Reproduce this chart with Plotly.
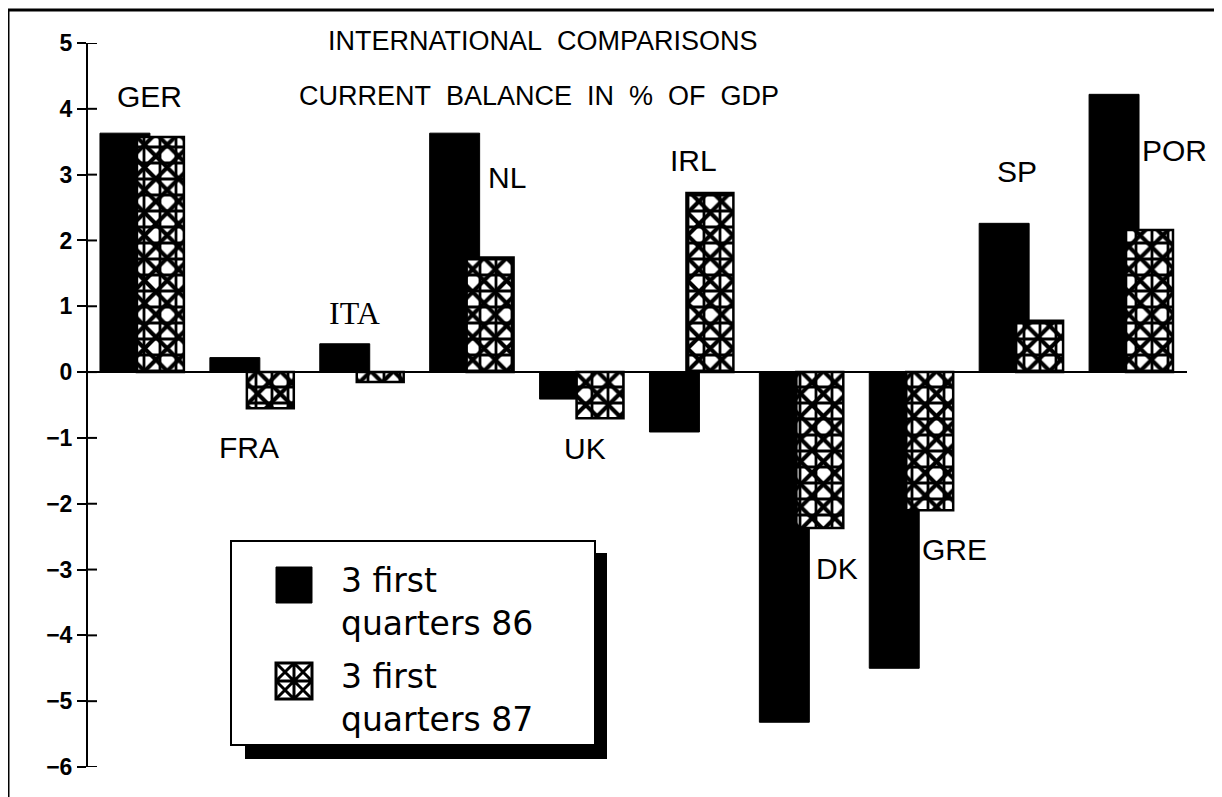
import plotly.graph_objects as go

# ---- data ----
countries = ["GER", "FRA", "ITA", "NL", "UK", "IRL", "DK", "GRE", "SP", "POR"]
q86 = [3.63, 0.22, 0.43, 3.63, -0.41, -0.91, -5.32, -4.50, 2.26, 4.22]
q87 = [3.57, -0.55, -0.15, 1.74, -0.70, 2.72, -2.37, -2.10, 0.78, 2.16]
series_names = ["3 first<br>quarters 86", "3 first<br>quarters 87"]
title_lines = ["INTERNATIONAL\u00a0\u00a0COMPARISONS",
               "CURRENT\u00a0\u00a0BALANCE\u00a0\u00a0IN\u00a0\u00a0%\u00a0\u00a0OF\u00a0\u00a0GDP"]
y_ticks = list(range(-6, 6))

# ---- label placement (layout only) ----
label_xshift = {"GER": 7, "FRA": -4, "ITA": -8, "NL": 34, "UK": 2,
                "IRL": 1, "DK": 35, "GRE": 42, "SP": -5, "POR": 42}
label_y = {"GER": 4.18, "FRA": -1.14, "ITA": 0.90, "NL": 2.96, "UK": -1.155,
           "IRL": 3.21, "DK": -2.98, "GRE": -2.70, "SP": 3.05, "POR": 3.36}

OFF = 8                      # page body margin
W, H = 1222 - OFF, 797 - OFF
ML, MR, MT, MB = 88 - OFF, 35, 43 - OFF, 30
PW, PH = W - ML - MR, H - MT - MB


def px_x(px):
    return (px - OFF - ML) / PW


def px_y(py):
    return (H - MB - (py - OFF)) / PH


fig = go.Figure()

fig.add_trace(go.Bar(
    x=countries, y=q86, name=series_names[0].replace("<br>", " "), showlegend=False,
    offset=-0.391, width=0.4545,
    marker=dict(color="black", line=dict(color="black", width=1)),
    hoverinfo="skip",
))
fig.add_trace(go.Bar(
    x=countries, y=q87, name=series_names[1].replace("<br>", " "), showlegend=False,
    offset=-0.0545, width=0.427,
    marker=dict(color="white", line=dict(color="black", width=0),
                pattern=dict(shape="+", fgcolor="black", bgcolor="white",
                             fillmode="replace", size=16, solidity=0.32)),
    hoverinfo="skip",
))
fig.add_trace(go.Bar(
    x=countries, y=q87, name=series_names[1].replace("<br>", " "), showlegend=False,
    offset=-0.0545, width=0.427,
    marker=dict(color="rgba(0,0,0,0)", line=dict(color="black", width=2.5),
                pattern=dict(shape="x", fgcolor="black", bgcolor="rgba(0,0,0,0)",
                             fillmode="replace", size=16, solidity=0.45)),
    hoverinfo="skip",
))

annotations = []
for c in countries:
    serif = c == "ITA"
    annotations.append(dict(
        x=c, y=label_y[c], xref="x", yref="y", xshift=label_xshift[c],
        text=c, showarrow=False, xanchor="center", yanchor="middle",
        font=dict(family="Liberation Serif" if serif else "Liberation Sans",
                  size=32 if serif else 30, color="black"),
    ))
for txt, cx, cy in [(title_lines[0], 543, 41), (title_lines[1], 539, 96)]:
    annotations.append(dict(x=px_x(cx), y=px_y(cy), xref="paper", yref="paper",
                            text=txt, showarrow=False,
                            xanchor="center", yanchor="middle",
                            font=dict(family="Liberation Sans", size=27, color="black")))

shapes = []
# outer frame
shapes.append(dict(type="rect", xref="paper", yref="paper",
                   x0=px_x(8), x1=px_x(1217), y0=px_y(830), y1=px_y(10),
                   line=dict(color="black", width=3), fillcolor="rgba(0,0,0,0)",
                   layer="below"))
# inner half of the tick marks
for t in y_ticks:
    shapes.append(dict(type="line", xref="paper", yref="y",
                       x0=0, x1=px_x(97), y0=t, y1=t,
                       line=dict(color="black", width=2)))


# ---- legend (drawn box with drop shadow) ----
def rect(x0, y0, x1, y1, **kw):
    d = dict(type="rect", xref="paper", yref="paper",
             x0=px_x(x0), x1=px_x(x1), y0=px_y(y1), y1=px_y(y0), layer="above")
    d.update(kw)
    return d


shapes.append(rect(245, 553, 607, 759, line=dict(width=0), fillcolor="black"))
shapes.append(rect(231, 541, 595, 745, line=dict(color="black", width=2),
                   fillcolor="white"))
# swatch 1: solid
shapes.append(rect(276, 567, 312, 603, line=dict(color="black", width=1),
                   fillcolor="black"))
# swatch 2: lattice hatch
sx0, sy0, sx1, sy1 = 276, 663, 312, 699
shapes.append(rect(sx0, sy0, sx1, sy1, line=dict(color="black", width=3),
                   fillcolor="white"))
mx, my = (sx0 + sx1) / 2, (sy0 + sy1) / 2
segs = [((mx, sy0), (mx, sy1)), ((sx0, my), (sx1, my))]
for (ax0, ax1) in [(sx0, mx), (mx, sx1)]:
    for (ay0, ay1) in [(sy0, my), (my, sy1)]:
        segs.append(((ax0, ay0), (ax1, ay1)))
        segs.append(((ax0, ay1), (ax1, ay0)))
path = " ".join(f"M{px_x(a[0]):.5f},{px_y(a[1]):.5f} L{px_x(b[0]):.5f},{px_y(b[1]):.5f}"
                for a, b in segs)
shapes.append(dict(type="path", xref="paper", yref="paper", path=path,
                   line=dict(color="black", width=3), layer="above"))

for txt, cy in zip(series_names, [602, 698]):
    annotations.append(dict(x=px_x(339), y=px_y(cy), xref="paper", yref="paper",
                            text=txt, showarrow=False, xanchor="left",
                            yanchor="middle", align="left",
                            font=dict(family="DejaVu Sans", size=33,
                                      color="black")))

fig.update_layout(
    width=W, height=H,
    margin=dict(l=ML, r=MR, t=MT, b=MB, pad=0),
    paper_bgcolor="white", plot_bgcolor="white",
    barmode="overlay",
    showlegend=False,
    xaxis=dict(range=[-0.5, 9.5], showline=False, showticklabels=False,
               ticks="", showgrid=False, zeroline=False, fixedrange=True),
    yaxis=dict(range=[-6, 5], tickvals=y_ticks, showline=True, linecolor="black",
               linewidth=2, ticks="outside", ticklen=9, tickwidth=2,
               tickcolor="black", showgrid=False, zeroline=True,
               zerolinecolor="black", zerolinewidth=2,
               tickfont=dict(family="Liberation Sans", size=23, color="black",
                             weight="bold"),
               fixedrange=True),
    annotations=annotations,
    shapes=shapes,
)

fig.write_html("out.html")
